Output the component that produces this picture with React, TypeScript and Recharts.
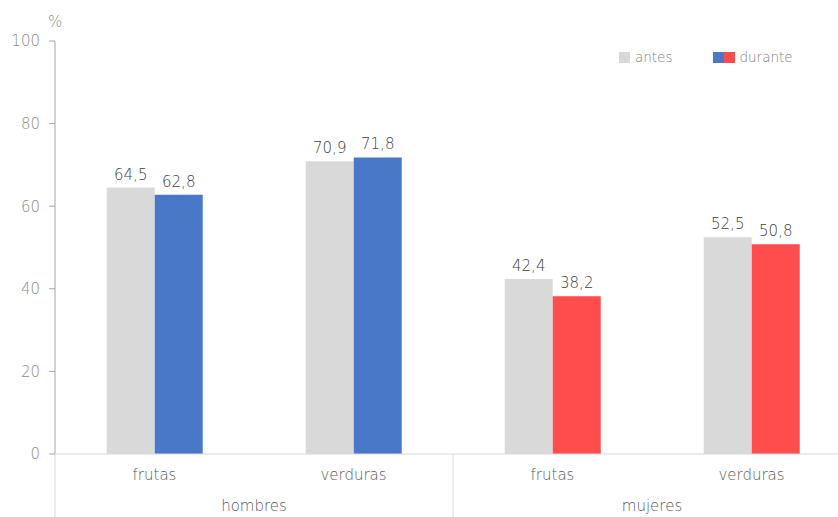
import { BarChart, Bar, XAxis, YAxis, Cell, LabelList } from "recharts";

const categories = ["frutas", "verduras", "frutas", "verduras"];
const groups = ["hombres", "hombres", "mujeres", "mujeres"];
const antes = [64.5, 70.9, 42.4, 52.5];
const durante = [62.8, 71.8, 38.2, 50.8];
const yTicks = [0, 20, 40, 60, 80, 100];

const GREY = "#d9d9d9";
const BLUE = "#4a78c8";
const RED = "#ff4d4d";
const FONT = "'DejaVu Sans', Lato, sans-serif";
const WEIGHT = 200;

// plot area runs a bit past the right edge of the picture, as in the original
const W = 851;
const VIEW_W = 838;
const H = 517;
const AXIS_W = 55;
const CAT_W = (W - AXIS_W) / categories.length;

const data = categories.map((c, i) => ({
  cat: c,
  group: groups[i],
  antes: antes[i],
  durante: durante[i],
}));

const fmt = (v: number) => v.toFixed(1).replace(".", ",");

function GroupTick(props: any) {
  const { x, y, index, payload } = props;
  if (index % 2 !== 0) return <g />;
  const left = x - CAT_W / 2;
  return (
    <g>
      <line x1={left} x2={left} y1={y - 30} y2={H} stroke="#d9d9d9" />
      <text
        x={left + CAT_W}
        y={y + 27}
        textAnchor="middle"
        fill="#595959"
        fontSize={15}
        fontWeight={WEIGHT}
        fontFamily={FONT}
      >
        {payload.value}
      </text>
    </g>
  );
}

function PercentLabel(props: any) {
  const { viewBox } = props;
  return (
    <text
      x={viewBox.x + viewBox.width - 7}
      y={viewBox.y - 14}
      fill="#8c8c8c"
      fontSize={15}
      fontWeight={WEIGHT}
      fontFamily={FONT}
    >
      %
    </text>
  );
}

function LegendBox() {
  const sq = { display: "inline-block", width: 11, height: 11 };
  return (
    <div
      style={{
        position: "absolute",
        left: 619,
        top: 49,
        display: "flex",
        alignItems: "center",
        fontFamily: FONT,
        fontWeight: WEIGHT,
        fontSize: 13.5,
        color: "#7f7f7f",
      }}
    >
      <span style={{ ...sq, background: GREY, marginRight: 5 }} />
      <span style={{ marginRight: 41 }}>antes</span>
      <span style={{ ...sq, background: BLUE }} />
      <span style={{ ...sq, background: RED, marginRight: 4 }} />
      <span>durante</span>
    </div>
  );
}

export default function App() {
  const labelStyle = {
    fill: "#404040",
    fontSize: 15,
    fontWeight: WEIGHT,
    fontFamily: FONT,
  };
  return (
    <div
      style={{
        position: "absolute",
        left: 0,
        top: 0,
        width: VIEW_W,
        height: H,
        overflow: "hidden",
        background: "#fff",
      }}
    >
      <BarChart
        width={W}
        height={H}
        data={data}
        margin={{ top: 41, right: 0, bottom: 0, left: 0 }}
        barGap={0}
        barCategoryGap="26%"
      >
        <YAxis
          domain={[0, 100]}
          ticks={yTicks}
          width={AXIS_W}
          tickSize={6}
          tickMargin={9}
          axisLine={{ stroke: "#a6a6a6" }}
          tickLine={{ stroke: "#a6a6a6" }}
          tick={{ fill: "#8c8c8c", fontSize: 15, fontWeight: WEIGHT, fontFamily: FONT }}
          label={<PercentLabel />}
        />
        <XAxis
          dataKey="cat"
          xAxisId={0}
          height={30}
          tickSize={0}
          tickMargin={15}
          axisLine={{ stroke: "#d9d9d9" }}
          tickLine={false}
          tick={{ fill: "#595959", fontSize: 15, fontWeight: WEIGHT, fontFamily: FONT }}
          interval={0}
        />
        <XAxis
          dataKey="group"
          xAxisId={1}
          height={33}
          tickSize={0}
          tickMargin={0}
          axisLine={false}
          tickLine={false}
          tick={<GroupTick />}
          interval={0}
          allowDuplicatedCategory
        />
        <Bar dataKey="antes" fill={GREY} isAnimationActive={false}>
          <LabelList
            dataKey="antes"
            position="top"
            offset={8}
            formatter={(v: any) => fmt(Number(v))}
            style={labelStyle}
          />
        </Bar>
        <Bar dataKey="durante" isAnimationActive={false}>
          {data.map((d, i) => (
            <Cell key={i} fill={d.group === "hombres" ? BLUE : RED} />
          ))}
          <LabelList
            dataKey="durante"
            position="top"
            offset={8}
            formatter={(v: any) => fmt(Number(v))}
            style={labelStyle}
          />
        </Bar>
      </BarChart>
      <LegendBox />
    </div>
  );
}
